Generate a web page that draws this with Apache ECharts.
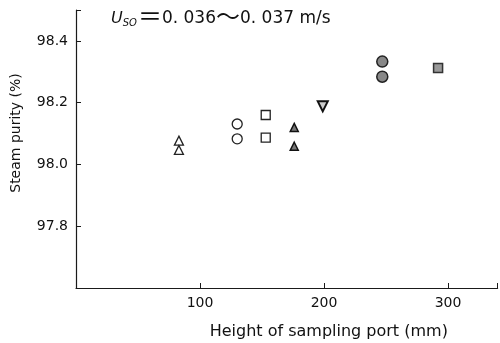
<!DOCTYPE html>
<html>
<head>
<meta charset="utf-8">
<title>Steam purity</title>
<script type="text/javascript" src="https://cdn.jsdelivr.net/npm/echarts@6/dist/echarts.min.js"></script>
<style type="text/css">
html, body {margin: 0; padding: 0; background: #fff;}
#main {width: 500px; height: 343px;}
</style>
</head>
<body>
<div id="main"></div>
<script type="text/javascript">
// tick labels shown on each axis
var xTickLabels = ['100', '200', '300'];
var yTickLabels = ['97.8', '98.0', '98.2', '98.4'];

// [height of sampling port (mm), steam purity (%)]
var openTriangle = [[83, 98.077], [83, 98.047]];
var openCircle = [[130, 98.131], [130, 98.083]];
var openSquare = [[153, 98.160], [153, 98.087]];
var filledTriangle = [[176, 98.120], [176, 98.059]];
var invTriangle = [[199, 98.188]];
var grayCircle = [[247, 98.333], [247, 98.284]];
var graySquare = [[292, 98.312]];

var axisColor = '#1a1a1a';
var font = '"DejaVu Sans", "Noto Sans CJK JP", sans-serif';

function mk(name, data, symbol, size, fill, border, bw, rotate) {
    return {
        name: name,
        type: 'scatter',
        data: data,
        symbol: symbol,
        symbolSize: size,
        symbolRotate: rotate || 0,
        itemStyle: {color: fill, borderColor: border, borderWidth: bw, opacity: 1},
        emphasis: {disabled: true}
    };
}

var myChart = echarts.init(document.getElementById('main'));
var option = {
    animation: false,
    title: {
        left: 106,
        top: 2,
        text: '{i|U}{s|SO}{w|＝}{n|0. 036}{w|～}{n|0. 037 m/s}',
        textStyle: {
            fontWeight: 'normal',
            rich: {
                i: {fontFamily: font, fontStyle: 'italic', fontWeight: 'normal', fontSize: 16, color: '#111'},
                s: {fontFamily: font, fontStyle: 'italic', fontWeight: 'normal', fontSize: 10, color: '#111', padding: [8, 1, 0, 0]},
                w: {fontFamily: font, fontWeight: 'normal', fontSize: 24, color: '#111'},
                n: {fontFamily: font, fontWeight: 'normal', fontSize: 17, color: '#111'}
            }
        }
    },
    grid: {left: 76, top: 10, right: 2.4, bottom: 55, containLabel: false, outerBoundsMode: 'none'},
    xAxis: {
        type: 'value',
        min: 0,
        max: 340,
        interval: 100,
        name: 'Height of sampling port (mm)',
        nameLocation: 'middle',
        nameGap: 36,
        nameTextStyle: {fontFamily: font, fontSize: 16, color: '#111', padding: [0, 0, 0, 84]},
        axisLine: {lineStyle: {color: axisColor, width: 1.2}},
        axisTick: {inside: true, length: 5, lineStyle: {color: axisColor}},
        splitLine: {show: false},
        axisLabel: {
            fontFamily: font, fontSize: 14, color: '#111', margin: 8,
            formatter: function (v) {
                var s = String(Math.round(v));
                return xTickLabels.indexOf(s) >= 0 ? s : '';
            }
        }
    },
    yAxis: {
        type: 'value',
        min: 97.6,
        max: 98.5,
        interval: 0.2,
        name: 'Steam purity (%)',
        nameLocation: 'middle',
        nameRotate: 90,
        nameGap: 53,
        nameTextStyle: {fontFamily: font, fontSize: 14, color: '#111', padding: [0, 0, 0, 32]},
        axisLine: {show: true, lineStyle: {color: axisColor, width: 1.2}},
        axisTick: {show: true, inside: true, length: 5, lineStyle: {color: axisColor}},
        splitLine: {show: false},
        axisLabel: {
            fontFamily: font, fontSize: 14, color: '#111', margin: 8,
            formatter: function (v) {
                var s = v.toFixed(1);
                return yTickLabels.indexOf(s) >= 0 ? s : '';
            }
        }
    },
    series: [
        mk('open triangle', openTriangle, 'triangle', 9, '#fff', '#222', 1.3),
        mk('open circle', openCircle, 'circle', 10, '#fff', '#222', 1.3),
        mk('open square', openSquare, 'rect', 9, '#fff', '#222', 1.3),
        mk('filled triangle', filledTriangle, 'triangle', 8, '#777', '#111', 1.5),
        mk('inverted triangle', invTriangle, 'triangle', 10, '#ccc', '#111', 2, 180),
        mk('gray circle', grayCircle, 'circle', 11, '#888', '#222', 1.5),
        mk('gray square', graySquare, 'rect', 9, '#999', '#333', 1.5)
    ]
};
myChart.setOption(option);
</script>
</body>
</html>
